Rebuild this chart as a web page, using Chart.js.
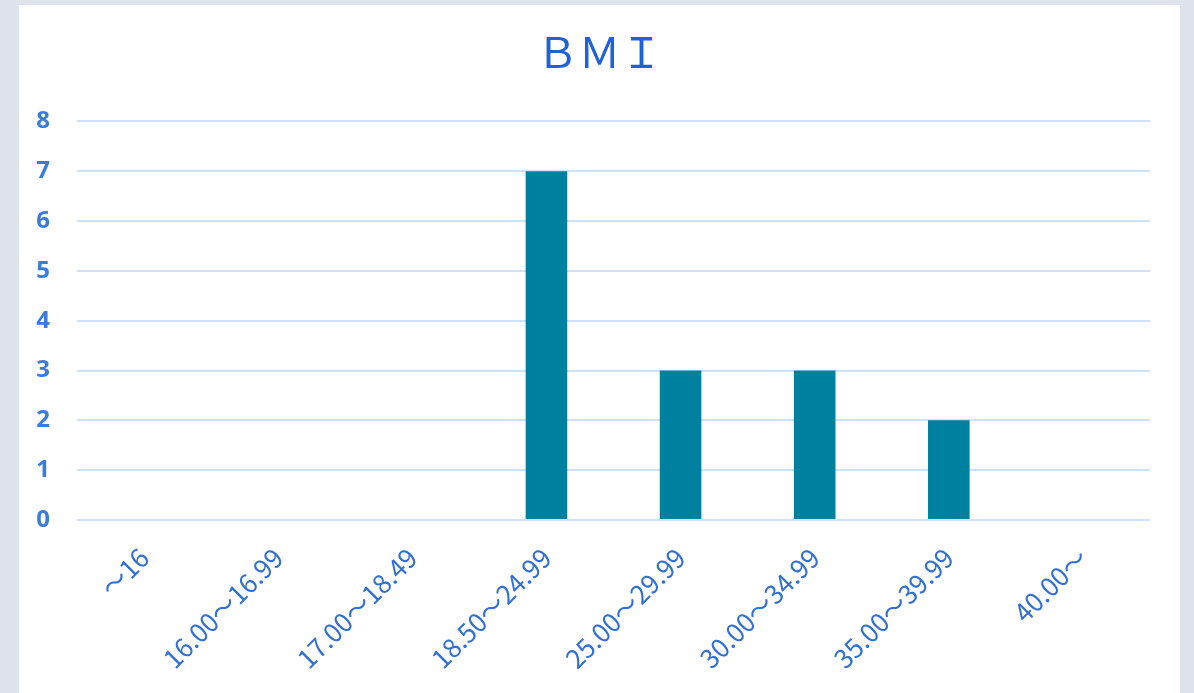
<!DOCTYPE html>
<html>
<head>
<meta charset="utf-8">
<script src="https://cdn.jsdelivr.net/npm/chart.js@4"></script>
<style>
  html, body { margin: 0; padding: 0; background: #dee2ea; }
  #panel { position: absolute; left: 19px; top: 5px; width: 1161px; height: 688px; background: #ffffff; }
</style>
</head>
<body>
<div id="panel"><canvas id="bmi-chart" width="1161" height="688"></canvas></div>
<script>
// data
const titleText = 'ＢＭＩ'
const categories = ['～16', '16.00～16.99', '17.00～18.49', '18.50～24.99', '25.00～29.99', '30.00～34.99', '35.00～39.99', '40.00～']
const counts = [0, 0, 0, 7, 3, 3, 2, 0]
const yMin = 0
const yMax = 8

const ctx = document.getElementById('bmi-chart')

new Chart(ctx, {
    type: 'bar',
    data: {
        labels: categories,
        datasets: [{
            label: 'BMI',
            data: counts,
            backgroundColor: '#00809f',
            categoryPercentage: 1,
            barPercentage: 0.31
        }]
    },
    options: {
        responsive: false,
        animation: false,
        layout: { padding: 0 },
        plugins: {
            legend: { display: false },
            tooltip: { enabled: false },
            title: {
                display: true,
                text: titleText,
                color: '#1d62d9',
                font: { family: "'Noto Sans CJK JP', 'Noto Sans'", size: 42, weight: 'normal' },
                padding: { top: 22, bottom: 44 }
            }
        },
        scales: {
            x: {
                grid: { display: false },
                border: { display: false },
                ticks: {
                    color: '#2f6fd6',
                    font: { family: "'Noto Sans CJK JP', 'Open Sans'", size: 26 },
                    minRotation: 45,
                    maxRotation: 45,
                    padding: 14,
                    autoSkip: false
                },
                afterFit: (scale) => { scale.height = 173 }
            },
            y: {
                min: yMin,
                max: yMax,
                border: { display: false },
                grid: { color: '#cfe0fa', lineWidth: 2, drawTicks: false },
                ticks: {
                    stepSize: 1,
                    color: '#3a7be0',
                    font: { family: "'Open Sans'", size: 24, weight: 'bold' },
                    padding: 27
                },
                afterFit: (scale) => { scale.width = 58 }
            },
            // empty right margin so the title stays centred on the panel
            yRight: {
                type: 'linear',
                position: 'right',
                grid: { display: false },
                border: { display: false },
                ticks: { display: false },
                afterFit: (scale) => { scale.width = 30 }
            }
        }
    }
})
</script>
</body>
</html>
